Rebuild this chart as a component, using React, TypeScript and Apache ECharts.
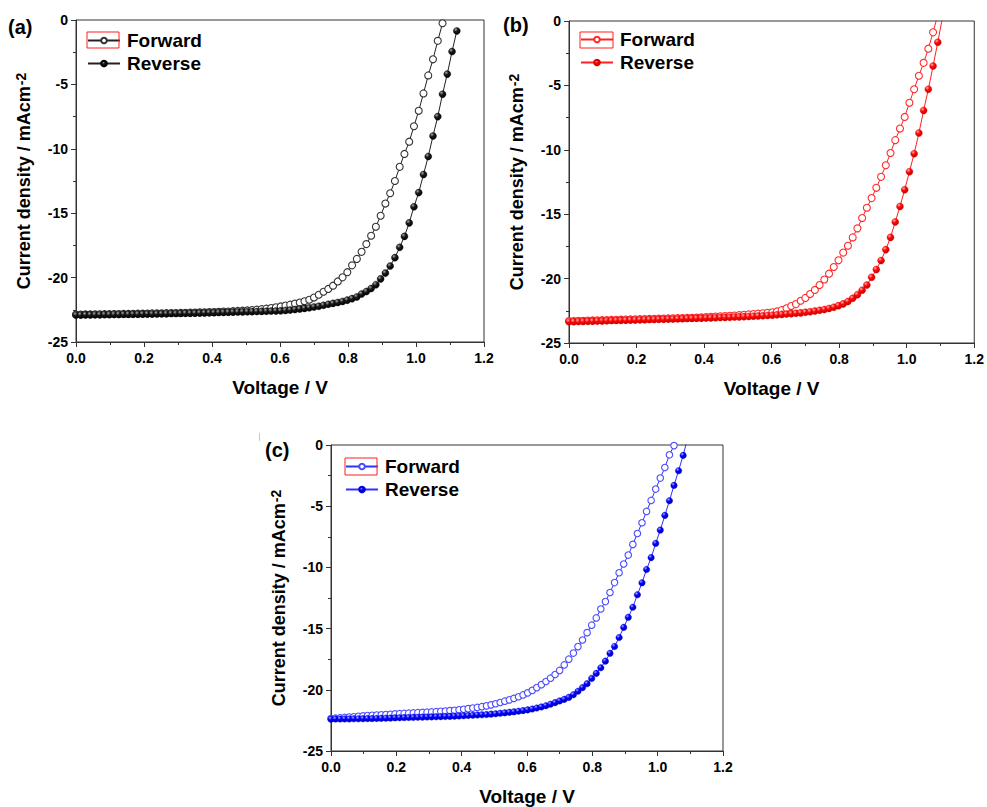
import React, { useEffect, useRef } from "react";
import * as echarts from "echarts";

// Shared voltage grid (V)
const VOLTAGE = [
  0, 0.014, 0.028, 0.042, 0.056, 0.07, 0.084, 0.098, 0.112, 0.126,
  0.14, 0.154, 0.168, 0.182, 0.196, 0.21, 0.224, 0.238, 0.252, 0.266,
  0.28, 0.294, 0.308, 0.322, 0.336, 0.35, 0.364, 0.378, 0.392, 0.406,
  0.42, 0.434, 0.448, 0.462, 0.476, 0.49, 0.504, 0.518, 0.532, 0.546,
  0.56, 0.574, 0.588, 0.602, 0.616, 0.63, 0.644, 0.658, 0.672, 0.686,
  0.7, 0.714, 0.728, 0.742, 0.756, 0.77, 0.784, 0.798, 0.812, 0.826,
  0.84, 0.854, 0.868, 0.882, 0.896, 0.91, 0.924, 0.938, 0.952, 0.966,
  0.98, 0.994, 1.008, 1.022, 1.036, 1.05, 1.064, 1.078, 1.092, 1.106,
  1.12,
];

// Current density (mA cm^-2)
const A_FORWARD = [
  -22.87, -22.87, -22.86, -22.86, -22.85, -22.85, -22.84, -22.84, -22.83, -22.83,
  -22.82, -22.82, -22.81, -22.8, -22.8, -22.79, -22.78, -22.78, -22.77, -22.76,
  -22.75, -22.75, -22.74, -22.73, -22.72, -22.71, -22.7, -22.69, -22.68, -22.67,
  -22.66, -22.64, -22.63, -22.61, -22.59, -22.57, -22.55, -22.52, -22.49, -22.45,
  -22.41, -22.36, -22.3, -22.24, -22.17, -22.1, -22.02, -21.94, -21.84, -21.72,
  -21.55, -21.33, -21.1, -20.88, -20.63, -20.3, -19.98, -19.58, -19.05, -18.55,
  -18.0, -17.4, -16.75, -16.05, -15.2, -14.25, -13.45, -12.5, -11.4, -10.4,
  -9.45, -8.25, -7.05, -5.7, -4.3, -3.05, -1.62, -0.25,
];
const A_REVERSE = [
  -22.9, -22.9, -22.89, -22.89, -22.88, -22.88, -22.87, -22.87, -22.86, -22.86,
  -22.85, -22.85, -22.84, -22.84, -22.83, -22.82, -22.82, -22.81, -22.81, -22.8,
  -22.79, -22.79, -22.78, -22.77, -22.77, -22.76, -22.75, -22.74, -22.73, -22.72,
  -22.71, -22.7, -22.69, -22.68, -22.67, -22.66, -22.65, -22.64, -22.63, -22.62,
  -22.61, -22.6, -22.59, -22.58, -22.55, -22.52, -22.48, -22.44, -22.39, -22.34,
  -22.28, -22.22, -22.15, -22.07, -22.0, -21.93, -21.85, -21.75, -21.63, -21.5,
  -21.27, -21.08, -20.85, -20.55, -20.1, -19.65, -19.1, -18.45, -17.65, -16.8,
  -15.75, -14.5, -13.4, -12.0, -10.6, -9.0, -7.5, -5.76, -4.2, -2.45,
  -0.85,
];
const B_FORWARD = [
  -23.3, -23.29, -23.28, -23.27, -23.26, -23.25, -23.24, -23.23, -23.22, -23.21,
  -23.2, -23.19, -23.18, -23.17, -23.16, -23.15, -23.14, -23.13, -23.12, -23.11,
  -23.1, -23.09, -23.08, -23.07, -23.06, -23.05, -23.04, -23.03, -23.01, -22.99,
  -22.97, -22.95, -22.93, -22.91, -22.89, -22.87, -22.84, -22.81, -22.78, -22.75,
  -22.72, -22.69, -22.66, -22.62, -22.55, -22.45, -22.3, -22.13, -21.98, -21.72,
  -21.5, -21.2, -20.88, -20.5, -20.07, -19.62, -19.1, -18.58, -17.98, -17.45,
  -16.8, -16.1, -15.3, -14.5, -13.75, -12.95, -12.1, -11.2, -10.25, -9.25,
  -8.35, -7.45, -6.35, -5.3, -4.25, -3.25, -2.15, -0.88, 0.5,
];
const B_REVERSE = [
  -23.35, -23.34, -23.33, -23.32, -23.31, -23.3, -23.29, -23.28, -23.27, -23.26,
  -23.25, -23.24, -23.23, -23.22, -23.21, -23.2, -23.19, -23.18, -23.17, -23.16,
  -23.15, -23.14, -23.13, -23.12, -23.11, -23.1, -23.09, -23.08, -23.07, -23.06,
  -23.05, -23.04, -23.02, -23.01, -23.0, -22.98, -22.97, -22.95, -22.94, -22.92,
  -22.9, -22.88, -22.86, -22.84, -22.81, -22.78, -22.75, -22.72, -22.69, -22.66,
  -22.61, -22.57, -22.52, -22.46, -22.4, -22.32, -22.22, -22.1, -21.96, -21.78,
  -21.53, -21.25, -20.9, -20.5, -19.9, -19.3, -18.6, -17.75, -16.8, -15.6,
  -14.4, -13.1, -11.7, -10.3, -8.7, -6.95, -5.3, -3.5, -1.65, 0.3,
];
const C_FORWARD = [
  -22.35, -22.32, -22.29, -22.26, -22.23, -22.2, -22.16, -22.13, -22.1, -22.08,
  -22.06, -22.04, -22.02, -22.0, -21.97, -21.95, -21.93, -21.91, -21.89, -21.87,
  -21.85, -21.83, -21.81, -21.79, -21.76, -21.73, -21.7, -21.67, -21.63, -21.59,
  -21.54, -21.49, -21.44, -21.38, -21.31, -21.23, -21.14, -21.04, -20.93, -20.82,
  -20.7, -20.57, -20.42, -20.25, -20.05, -19.82, -19.58, -19.32, -19.05, -18.75,
  -18.42, -17.97, -17.5, -17.0, -16.47, -15.93, -15.33, -14.72, -14.13, -13.4,
  -12.79, -12.05, -11.24, -10.44, -9.72, -8.99, -8.12, -7.23, -6.35, -5.43,
  -4.53, -3.6, -2.7, -1.84, -0.8, -0.05,
];
const C_REVERSE = [
  -22.4, -22.39, -22.39, -22.38, -22.38, -22.37, -22.37, -22.36, -22.35, -22.35,
  -22.34, -22.33, -22.32, -22.31, -22.29, -22.28, -22.27, -22.26, -22.25, -22.24,
  -22.23, -22.22, -22.21, -22.2, -22.19, -22.18, -22.17, -22.16, -22.14, -22.12,
  -22.1, -22.08, -22.06, -22.04, -22.02, -21.99, -21.96, -21.92, -21.88, -21.84,
  -21.8, -21.75, -21.7, -21.64, -21.57, -21.49, -21.4, -21.3, -21.18, -21.05,
  -20.91, -20.78, -20.62, -20.4, -20.12, -19.82, -19.5, -19.07, -18.66, -18.2,
  -17.66, -17.02, -16.46, -15.73, -14.9, -14.08, -13.26, -12.23, -11.26, -10.17,
  -9.2, -8.04, -6.95, -5.75, -4.55, -3.3, -2.1, -0.85, 0.6,
];

const X_TICKS_FMT = (v: number) => v.toFixed(1);
const PANEL_LABELS = ["(a)", "(b)", "(c)"];
const SERIES_NAMES = ["Forward", "Reverse"];

const FONT = 'Arial, "Liberation Sans", sans-serif';

function pairs(ys: number[]) {
  return ys.map((y, i) => [VOLTAGE[i], y]);
}

function sphere(light: string, mid: string, dark: string) {
  return {
    type: "radial",
    x: 0.35,
    y: 0.3,
    r: 0.75,
    colorStops: [
      { offset: 0, color: light },
      { offset: 0.4, color: mid },
      { offset: 1, color: dark },
    ],
  };
}

const PANELS = [
  {
    grid: { left: 76, top: 20, width: 408, height: 322 },
    fwd: A_FORWARD,
    rev: A_REVERSE,
    fwdColor: "#333333",
    lineColor: "#222222",
    revFill: sphere("#a8a8a8", "#1a1a1a", "#000000"),
    revBorder: "#000000",
    size: 7,
    legend: { left: 87, top: 31 },
    box: { x: 87, y: 32, width: 32, height: 16 },
    label: { x: 8, y: 27 },
  },
  {
    grid: { left: 569, top: 21, width: 406, height: 322 },
    fwd: B_FORWARD,
    rev: B_REVERSE,
    fwdColor: "#ff2a2a",
    lineColor: "#ff2020",
    revFill: sphere("#ffb0b0", "#ff0a0a", "#c00000"),
    revBorder: "#e00000",
    size: 7,
    legend: { left: 580, top: 30 },
    box: { x: 580, y: 32, width: 33, height: 16 },
    label: { x: 503, y: 25 },
  },
  {
    grid: { left: 331, top: 445, width: 392, height: 308 },
    fwd: C_FORWARD,
    rev: C_REVERSE,
    fwdColor: "#4d4dff",
    lineColor: "#3030ff",
    revFill: sphere("#a8a8ff", "#0000ff", "#0000b0"),
    revBorder: "#0000dd",
    size: 6.5,
    legend: { left: 345, top: 457 },
    box: { x: 345, y: 458, width: 32, height: 17 },
    label: { x: 265, y: 450 },
  },
];

export default function App() {
  const ref = useRef<HTMLDivElement>(null);

  useEffect(() => {
    if (!ref.current) return;
    const chart = echarts.init(ref.current, undefined, { renderer: "svg" });

    const axisLineStyle = { color: "#333", width: 1 };
    const labelStyle = {
      fontSize: 14,
      fontWeight: "bold",
      color: "#000",
      fontFamily: FONT,
    };

    const grids = PANELS.map((p) => ({
      ...p.grid,
      show: true,
      borderColor: "#333",
      borderWidth: 1,
      backgroundColor: "transparent",
    }));

    const xAxes = PANELS.map((_, i) => ({
      gridIndex: i,
      type: "value",
      min: 0,
      max: 1.2,
      interval: 0.2,
      axisLine: { show: true, onZero: false, lineStyle: axisLineStyle },
      axisTick: { show: true, inside: false, length: 5, lineStyle: axisLineStyle },
      minorTick: { show: true, splitNumber: 2, length: 3, lineStyle: axisLineStyle },
      splitLine: { show: false },
      axisLabel: { ...labelStyle, margin: 9, formatter: X_TICKS_FMT },
      name: "Voltage / V",
      nameLocation: "middle",
      nameGap: 36,
      nameTextStyle: { fontSize: 19, fontWeight: "bold", color: "#000", fontFamily: FONT },
    }));

    const yAxes = PANELS.map((_, i) => ({
      gridIndex: i,
      type: "value",
      min: -25,
      max: 0,
      interval: 5,
      axisLine: { show: true, onZero: false, lineStyle: axisLineStyle },
      axisTick: { show: true, inside: false, length: 5, lineStyle: axisLineStyle },
      minorTick: { show: true, splitNumber: 2, length: 3, lineStyle: axisLineStyle },
      splitLine: { show: false },
      axisLabel: { ...labelStyle, margin: 8 },
      name: "{m|Current density / mAcm}{s|-2}",
      nameLocation: "middle",
      nameRotate: 90,
      nameGap: 42,
      nameTextStyle: {
        color: "#000",
        rich: {
          m: { fontSize: 18, fontWeight: "bold", color: "#000", fontFamily: FONT, lineHeight: 20 },
          s: {
            fontSize: 14,
            fontWeight: "bold",
            color: "#000",
            fontFamily: FONT,
            lineHeight: 3,
            verticalAlign: "top",
            padding: [0, 0, 0, 1],
          },
        },
      },
    }));

    const series: any[] = [];
    PANELS.forEach((p, i) => {
      const tag = PANEL_LABELS[i];
      series.push({
        name: `${SERIES_NAMES[0]} ${tag}`,
        type: "line",
        xAxisIndex: i,
        yAxisIndex: i,
        data: pairs(p.fwd),
        symbol: "circle",
        symbolSize: p.size,
        showSymbol: true,
        clip: true,
        lineStyle: { color: p.lineColor, width: 1 },
        itemStyle: { color: "#ffffff", borderColor: p.fwdColor, borderWidth: 1.1 },
        z: 2,
      });
      series.push({
        name: `${SERIES_NAMES[1]} ${tag}`,
        type: "line",
        xAxisIndex: i,
        yAxisIndex: i,
        data: pairs(p.rev),
        symbol: "circle",
        symbolSize: p.size,
        showSymbol: true,
        clip: true,
        lineStyle: { color: p.lineColor, width: 1 },
        itemStyle: { color: p.revFill, borderColor: p.revBorder, borderWidth: 0.4 },
        z: 3,
      });
    });

    const legends = PANELS.map((p, i) => ({
      data: SERIES_NAMES.map((n) => `${n} ${PANEL_LABELS[i]}`),
      orient: "vertical",
      left: p.legend.left,
      top: p.legend.top,
      padding: 0,
      itemWidth: 32,
      itemHeight: 7,
      itemGap: 4,
      selectedMode: false,
      formatter: (name: string) => name.split(" ")[0],
      textStyle: {
        fontSize: 19,
        fontWeight: "bold",
        color: "#000",
        fontFamily: FONT,
        lineHeight: 18,
        padding: [0, 0, 0, 2],
      },
    }));

    const graphics: any[] = [];
    PANELS.forEach((p, i) => {
      graphics.push({
        type: "rect",
        shape: p.box,
        style: { fill: "none", stroke: "#ff2020", lineWidth: 1 },
        z: 10,
      });
      graphics.push({
        type: "text",
        x: p.label.x,
        y: p.label.y,
        style: {
          text: PANEL_LABELS[i],
          fontSize: 20,
          fontWeight: "bold",
          fontFamily: FONT,
          fill: "#000",
          verticalAlign: "middle",
          align: "left",
        },
      });
    });
    graphics.push({
      type: "line",
      shape: { x1: 259.5, y1: 433, x2: 259.5, y2: 441 },
      style: { stroke: "#c8c8c8", lineWidth: 1 },
    });

    chart.setOption({
      animation: false,
      backgroundColor: "#ffffff",
      grid: grids,
      xAxis: xAxes,
      yAxis: yAxes,
      legend: legends,
      series,
      graphic: graphics,
    });

    return () => chart.dispose();
  }, []);

  return (
    <div
      ref={ref}
      style={{ position: "absolute", left: 0, top: 0, width: 987, height: 807 }}
    />
  );
}
